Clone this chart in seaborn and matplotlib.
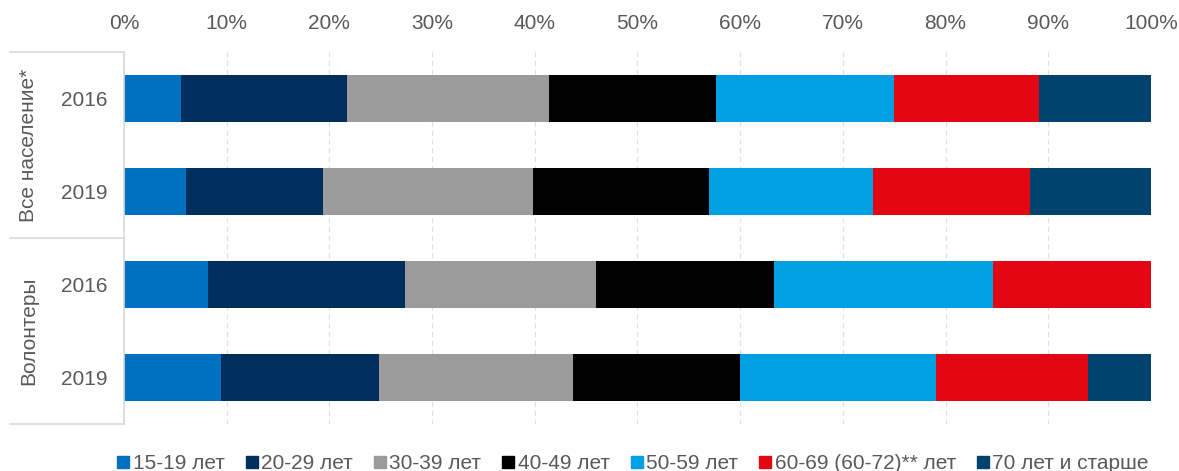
import pandas as pd
import matplotlib
matplotlib.use("Agg")
import matplotlib.pyplot as plt
from matplotlib.lines import Line2D
from matplotlib.ticker import PercentFormatter
import seaborn as sns

# rows, top to bottom
row_ids = ["all_2016", "all_2019", "vol_2016", "vol_2019"]
years = ["2016", "2019", "2016", "2019"]
groups = ["Все население*", "Волонтеры"]

age_groups = ["15-19 лет", "20-29 лет", "30-39 лет", "40-49 лет",
              "50-59 лет", "60-69 (60-72)** лет", "70 лет и старше"]

# shares in %, one list per age group (order of row_ids)
age_15_19 = [5.5, 6.0, 8.2, 9.45]
age_20_29 = [16.25, 13.4, 19.15, 15.4]
age_30_39 = [19.6, 20.4, 18.6, 18.9]
age_40_49 = [16.25, 17.15, 17.3, 16.2]
age_50_59 = [17.35, 16.0, 21.35, 19.15]
age_60_69 = [14.15, 15.25, 15.4, 14.75]
age_70_up = [10.9, 11.8, 0.0, 6.15]

colors = ["#0070C0", "#002F5E", "#9B9B9B", "#000000",
          "#00A0E2", "#E30613", "#00436F"]
text_col = "#595959"

sns.set_theme(style="white")
plt.rcParams["font.family"] = ["Liberation Sans", "DejaVu Sans"]

df = pd.DataFrame({"row": row_ids})
series = [age_15_19, age_20_29, age_30_39, age_40_49, age_50_59, age_60_69, age_70_up]
for name, vals in zip(age_groups, series):
    df[name] = vals
# cumulative shares so that bars can be overdrawn from the longest down
cum = df[age_groups].cumsum(axis=1)
cum["row"] = df["row"]

fig = plt.figure(figsize=(11.79, 4.71), dpi=100)
ax = fig.add_axes([0.1052, 0.0998, 0.871, 0.7898])

for name, col in reversed(list(zip(age_groups, colors))):
    sns.barplot(data=cum, x=name, y="row", order=row_ids, orient="h",
                color=col, width=0.5, saturation=1, edgecolor="none",
                linewidth=0, ax=ax)

ax.set_xlim(0, 100)
ax.set_ylim(3.5, -0.5)
ax.set_xlabel("")
ax.set_ylabel("")
ax.xaxis.tick_top()
ax.set_xticks(range(0, 101, 10))
ax.xaxis.set_major_formatter(PercentFormatter(decimals=0))
ax.set_yticks(range(len(row_ids)))
ax.set_yticklabels(years)
ax.tick_params(axis="x", length=0, pad=14, labelsize=15, labelcolor=text_col)
ax.tick_params(axis="y", length=0, pad=12, labelsize=15, labelcolor=text_col)
ax.grid(axis="x", color="#E0E0E0", linestyle=(0, (4, 3)), linewidth=0.9)
ax.set_axisbelow(True)
for s in ["top", "right", "bottom"]:
    ax.spines[s].set_visible(False)
ax.spines["left"].set_color("#D9D9D9")
ax.spines["left"].set_linewidth(1.2)

# group brackets on the left
trans = ax.get_yaxis_transform()
for yb in [-0.5, 1.5, 3.5]:
    ax.plot([-0.111, 0], [yb, yb], transform=trans, color="#D9D9D9",
            linewidth=1.2, clip_on=False)
for g, yc in zip(groups, [0.5, 2.5]):
    ax.text(-0.093, yc, g, transform=trans, rotation=90, ha="center",
            va="center", fontsize=15, color=text_col)

handles = [Line2D([], [], marker="s", linestyle="none", markersize=8,
                  markerfacecolor=c, markeredgecolor=c) for c in colors]
fig.legend(handles, age_groups, loc="center", bbox_to_anchor=(0.537, 0.016),
           ncol=7, frameon=False, fontsize=15, handlelength=0.6,
           handletextpad=0.15, columnspacing=1.0, labelcolor=text_col)

fig.savefig("out.png", dpi=100)
